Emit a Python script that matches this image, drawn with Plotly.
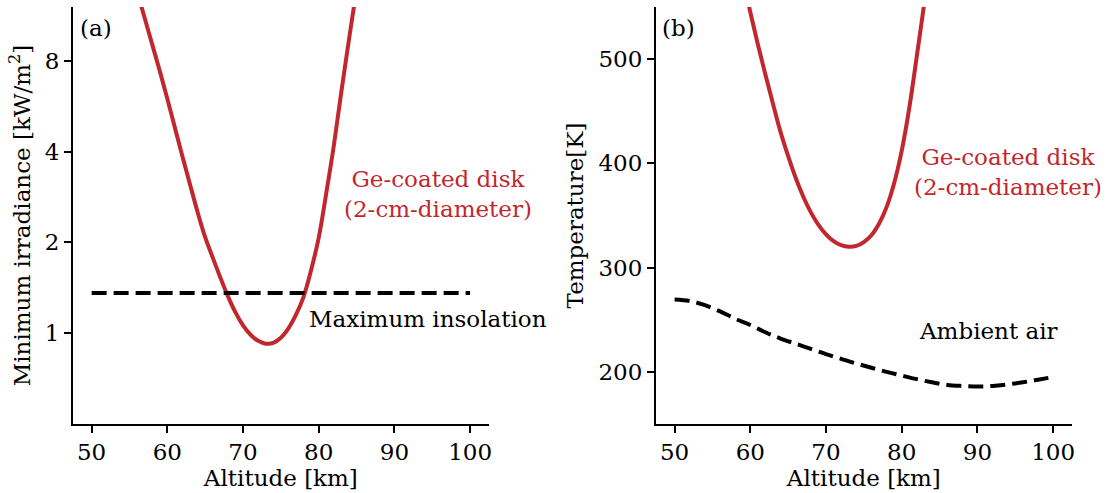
import plotly.graph_objects as go

# ---- data ----
alt_irr = [55, 56, 57, 58, 59, 60, 61, 62, 63, 64, 65, 66, 67, 68, 69, 70,
           71, 72, 73, 74, 75, 76, 77, 78, 79, 80, 81, 82, 83, 84, 85]
irr_disk = [16.7, 13.6, 11.1, 9.06, 7.4, 5.98, 4.80, 3.85, 3.11, 2.52, 2.08, 1.78,
            1.53, 1.327, 1.172, 1.062, 0.988, 0.943, 0.923, 0.928, 0.965, 1.037,
            1.151, 1.32, 1.62, 2.07, 2.91, 4.19, 6.33, 9.4, 13.8]
alt_ins = [50, 100]
max_insolation = [1.36, 1.36]

alt_temp = [59, 60, 61, 62, 63, 64, 65, 66, 67, 68, 69, 70, 71, 72, 73, 74,
            75, 76, 77, 78, 79, 80, 81, 82, 83, 84]
temp_disk = [578, 545, 514, 485, 457, 430, 407, 386, 368, 353, 341, 332, 325.5,
             321.5, 320, 320.8, 324.5, 331, 342, 358, 381, 412, 453, 503, 555, 615]
alt_air = [50, 52, 54, 56, 58, 60, 62, 64, 66, 68, 70, 72, 74, 76, 78, 80,
           82, 84, 86, 88, 90, 92, 94, 96, 98, 100]
temp_air = [269.5, 268, 264, 258, 251, 245, 238, 232, 227, 222, 217, 212.5, 208,
            204, 200, 196.5, 193, 190, 187.5, 186.5, 186, 186.5, 188, 190, 192.5, 195]

x_ticks = [50, 60, 70, 80, 90, 100]
irr_ticks = [1, 2, 4, 8]
temp_ticks = [200, 300, 400, 500]

RED = "#c1272d"
FONT = "DejaVu Serif"
FS = 23

fig = go.Figure()
fig.add_trace(go.Scatter(x=alt_irr, y=irr_disk, mode="lines", line_shape="spline",
                         line=dict(color=RED, width=4), xaxis="x", yaxis="y",
                         showlegend=False))
fig.add_trace(go.Scatter(x=alt_ins, y=max_insolation, mode="lines",
                         line=dict(color="black", width=4, dash="15px,7px"),
                         xaxis="x", yaxis="y", showlegend=False))
fig.add_trace(go.Scatter(x=alt_temp, y=temp_disk, mode="lines", line_shape="spline",
                         line=dict(color=RED, width=4), xaxis="x2", yaxis="y2",
                         showlegend=False))
fig.add_trace(go.Scatter(x=alt_air, y=temp_air, mode="lines", line_shape="spline",
                         line=dict(color="black", width=4, dash="15px,7px"),
                         xaxis="x2", yaxis="y2", showlegend=False))

axis_common = dict(showline=True, linecolor="black", linewidth=1.6,
                   ticks="outside", ticklen=7, tickwidth=1.5, tickcolor="black",
                   showgrid=False, zeroline=False, mirror=False, automargin=False,
                   tickfont=dict(family=FONT, size=FS, color="black"))

ydom = [69 / 493, 486 / 493]
fig.update_layout(
    width=1106, height=493,
    margin=dict(l=0, r=0, t=0, b=0),
    plot_bgcolor="white", paper_bgcolor="white",
    font=dict(family=FONT, size=FS, color="black"),
    xaxis=dict(domain=[72.7 / 1106, 489 / 1106], range=[47.5, 102.5],
               tickvals=x_ticks, anchor="y",
               title=dict(text="Altitude [km]", standoff=2,
                          font=dict(family=FONT, size=FS)),
               **axis_common),
    yaxis=dict(domain=ydom, type="log", range=[-0.30103, 1.081],
               tickvals=irr_ticks, ticktext=[str(t) for t in irr_ticks], anchor="x",
               title=dict(text="Minimum irradiance [kW/m<sup>2</sup>]", standoff=8,
                          font=dict(family=FONT, size=FS)),
               **axis_common),
    xaxis2=dict(domain=[655.7 / 1106, 1072 / 1106], range=[47.5, 102.5],
                tickvals=x_ticks, anchor="y2",
                title=dict(text="Altitude [km]", standoff=2,
                           font=dict(family=FONT, size=FS)),
                **axis_common),
    yaxis2=dict(domain=ydom, range=[150, 550], tickvals=temp_ticks, anchor="x2",
                title=dict(text="Temperature[K]", standoff=8,
                           font=dict(family=FONT, size=FS)),
                **axis_common),
)

fig.add_annotation(x=95.75, y=0.462, xref="x", yref="y",
                   text="Ge-coated disk<br>(2-cm-diameter)", showarrow=False,
                   font=dict(family=FONT, size=FS, color=RED), align="center")
fig.add_annotation(x=78.4, y=0.0474, xref="x", yref="y", xanchor="left",
                   text="Maximum insolation", showarrow=False,
                   font=dict(family=FONT, size=FS, color="black"))
fig.add_annotation(x=94.0, y=391.6, xref="x2", yref="y2",
                   text="Ge-coated disk<br>(2-cm-diameter)", showarrow=False,
                   font=dict(family=FONT, size=FS, color=RED), align="center")
fig.add_annotation(x=91.5, y=239, xref="x2", yref="y2",
                   text="Ambient air", showarrow=False,
                   font=dict(family=FONT, size=FS, color="black"))
fig.add_annotation(x=0.012, y=0.95, xref="x domain", yref="y domain",
                   xanchor="left", yanchor="middle", text="(a)", showarrow=False,
                   font=dict(family=FONT, size=23, color="black"))
fig.add_annotation(x=0.011, y=0.95, xref="x2 domain", yref="y2 domain",
                   xanchor="left", yanchor="middle", text="(b)", showarrow=False,
                   font=dict(family=FONT, size=23, color="black"))

fig.write_html("out.html", config={"displayModeBar": False},
               post_script="document.body.style.margin='0';"
                           "document.body.style.padding='0';")
